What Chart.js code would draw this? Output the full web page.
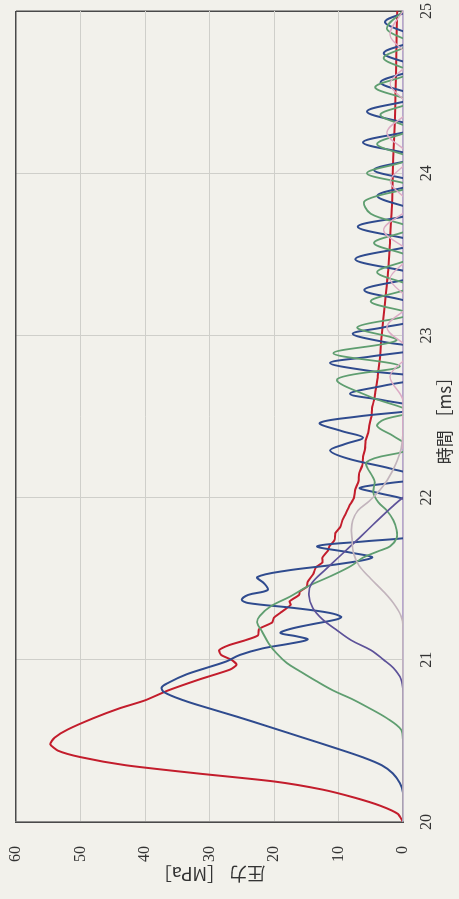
<!DOCTYPE html>
<html>
<head>
<meta charset="utf-8">
<script src="https://cdn.jsdelivr.net/npm/chart.js@4.4.0/dist/chart.umd.min.js"></script>
<style>
  html, body { margin: 0; padding: 0; width: 459px; height: 899px; overflow: hidden; background: #f2f1eb; }
  /* the scanned figure is turned a quarter turn, so the whole chart is rotated */
  #wrap { position: absolute; left: 0; top: 0; width: 899px; height: 459px;
          transform-origin: 0 0; transform: translate(0, 899px) rotate(-90deg); }
</style>
</head>
<body>
<div id="wrap"><canvas id="pressure-chart" width="899" height="459"></canvas></div>
<script>
// axis ticks
const timeTicks = [20, 21, 22, 23, 24, 25];
const pressureTicks = [0, 10, 20, 30, 40, 50, 60];

// red trace (slightly ragged on the way down)
const redT = [20.00, 20.05, 20.10, 20.15, 20.20, 20.25, 20.30, 20.35, 20.40, 20.44, 20.48, 20.52, 20.57, 20.64, 20.70, 20.75, 20.81, 20.88, 20.94, 20.97, 21.00, 21.03, 21.06, 21.09, 21.12, 21.15, 21.19, 21.23, 21.26, 21.29, 21.31, 21.34, 21.36, 21.40, 21.42, 21.45, 21.48, 21.53, 21.57, 21.60, 21.63, 21.67, 21.70, 21.74, 21.78, 21.82, 21.86, 21.90, 21.95, 22.00, 22.05, 22.10, 22.15, 22.20, 22.25, 22.30, 22.35, 22.40, 22.45, 22.50, 22.55, 22.60, 22.65, 22.75, 22.85, 23.00, 23.20, 23.40, 23.60, 23.80, 24.00, 24.20, 24.40, 24.60, 24.80, 25.00];
const redP = [0, 0.8, 3.5, 7.5, 12.5, 20, 32, 43, 50, 53.5, 54.7, 54, 52, 48, 44, 40, 36.5, 31.5, 26.8, 25.8, 26.6, 28.2, 28.5, 27, 24.5, 22.5, 22.3, 20.3, 20.0, 19.0, 18.3, 17.4, 17.6, 16.1, 16.0, 14.9, 14.8, 13.9, 13.5, 12.5, 12.5, 11.7, 11.4, 10.6, 10.5, 9.7, 9.4, 8.9, 8.3, 7.6, 7.4, 6.9, 6.8, 6.3, 6.2, 5.9, 5.8, 5.4, 5.2, 4.9, 4.8, 4.5, 4.3, 3.9, 3.6, 3.3, 2.8, 2.3, 2.0, 1.7, 1.6, 1.4, 1.2, 1.1, 1.0, 0.9];

// dark blue trace
const blueT = [20.00, 20.18, 20.24, 20.30, 20.35, 20.40, 20.46, 20.52, 20.59, 20.65, 20.70, 20.75, 20.80, 20.83, 20.86, 20.91, 20.95, 20.99, 21.03, 21.07, 21.10, 21.125, 21.145, 21.165, 21.19, 21.22, 21.25, 21.265, 21.29, 21.32, 21.35, 21.37, 21.40, 21.43, 21.47, 21.51, 21.55, 21.59, 21.63, 21.66, 21.70, 21.73, 21.76, 21.80, 21.90, 21.98, 22.03, 22.06, 22.09, 22.12, 22.18, 22.24, 22.29, 22.33, 22.37, 22.41, 22.46, 22.50, 22.55, 22.60, 22.64, 22.69, 22.74, 22.78, 22.83, 22.87, 22.92, 22.96, 23.01, 23.05, 23.10, 23.19, 23.28, 23.37, 23.47, 23.57, 23.67, 23.76, 23.86, 23.94, 24.02, 24.10, 24.19, 24.28, 24.38, 24.47, 24.56, 24.65, 24.74, 24.83, 24.93, 25.00];
const blueP = [0, 0, 0.5, 1.6, 3.3, 6.3, 10.8, 15.5, 21, 25.8, 30, 34, 37, 37.4, 36.3, 33.6, 30.5, 27.4, 25.3, 21.8, 17.5, 14.8, 16.5, 19, 17.5, 14, 10.2, 9.6, 11.5, 17, 24, 25, 24, 21, 21.5, 22.6, 18, 10, 4.8, 8, 13.3, 6, -2, -4, -4, -1, 4, 6.7, 2, -3, 2, 8.5, 11.3, 9, 6.2, 9.5, 12.9, 7, -3, 3, 8.2, 3, -3, 5, 11.3, 5, -3, 3, 7.8, 3, -2, -2, 6, -2, 7.4, -2, 7, -2, 4, -2, 4.5, -2, 6.2, -2, 5.6, -2, 3.5, -2, 3, -2, 2.8, -1];

// green trace
const greenT = [20.00, 20.50, 20.57, 20.64, 20.71, 20.76, 20.81, 20.87, 20.93, 20.98, 21.04, 21.10, 21.17, 21.23, 21.27, 21.33, 21.39, 21.45, 21.52, 21.58, 21.63, 21.67, 21.70, 21.75, 21.80, 21.86, 21.92, 21.97, 22.03, 22.10, 22.22, 22.30, 22.38, 22.44, 22.48, 22.53, 22.62, 22.73, 22.81, 22.89, 22.97, 23.05, 23.13, 23.21, 23.30, 23.39, 23.48, 23.57, 23.66, 23.75, 23.83, 23.92, 24.00, 24.09, 24.18, 24.27, 24.36, 24.44, 24.53, 24.62, 24.71, 24.80, 24.89, 25.00];
const greenP = [0, 0, 0.3, 2.5, 5.6, 8, 10.8, 13.5, 16, 18, 19.6, 20.8, 21.8, 22.6, 22.2, 20.5, 17.5, 14.9, 11, 8, 6.2, 3.8, 2.0, 1.0, 1.0, 1.5, 2.5, 3.8, 4.6, 4.4, 5.6, -1, 1.5, 4, 3, -1, 5, 10.2, 0.5, 10.8, 1, 7.1, -1, 5, -1, 4, -1, 4.5, -1, 5, 5.9, -1, 5.6, -1, 4, -1, 3.5, -1, 4.3, -1, 3, -1, 2.5, 0];

// purple trace
const purpleT = [20.00, 20.80, 20.88, 20.95, 21.00, 21.06, 21.12, 21.19, 21.25, 21.32, 21.40, 21.47, 21.55, 21.65, 21.75, 21.85, 21.95, 22.00, 22.05];
const purpleP = [0, 0, 0.3, 1.5, 3, 5, 8, 10.5, 12.5, 14, 14.6, 14.2, 12.2, 9.5, 6.8, 4.2, 1.5, 0, -2];

// grey-pink trace
const greyT = [20.00, 21.20, 21.27, 21.35, 21.42, 21.50, 21.58, 21.66, 21.74, 21.80, 21.86, 21.92, 21.98, 22.05, 22.11, 22.20, 22.30, 22.40];
const greyP = [0, 0, 0.3, 1.5, 3, 5, 6.8, 7.7, 7.9, 8.0, 7.8, 7.0, 5.2, 3.5, 2.4, 1.2, 0.3, 0];

// light pink trace (small late ripples)
const pinkT = [22.30, 22.60, 22.75, 22.90, 23.05, 23.20, 23.35, 23.50, 23.65, 23.80, 23.95, 24.10, 24.25, 24.40, 24.55, 24.70, 24.85, 25.00];
const pinkP = [0, 0, 2, -1, 2.5, -1, 2, -1, 3, -1, 2, -1, 2.5, -1, 2, -1, 2, 0];

function pts(ts, ps) {
  return ts.map((t, i) => ({ x: t, y: ps[i] }));
}

function trace(data, color, width, tension) {
  return {
    data: data,
    borderColor: color,
    backgroundColor: 'transparent',
    borderWidth: width,
    pointRadius: 0,
    tension: tension
  };
}

const serif = 'Liberation Serif';

const ctx = document.getElementById('pressure-chart').getContext('2d');
new Chart(ctx, {
  type: 'line',
  data: {
    datasets: [
      trace(pts(pinkT, pinkP), '#dcaac4', 1.4, 0.35),
      trace(pts(greyT, greyP), '#c2b4bc', 1.7, 0.35),
      trace(pts(purpleT, purpleP), '#5d5299', 1.7, 0.35),
      trace(pts(greenT, greenP), '#5f9e70', 1.8, 0.35),
      trace(pts(blueT, blueP), '#2f4b8e', 2, 0.35),
      trace(pts(redT, redP), '#c31d2c', 2, 0.2)
    ]
  },
  options: {
    responsive: false,
    animation: false,
    layout: { padding: { left: 0, right: 11, top: 16, bottom: 0 } },
    plugins: { legend: { display: false }, tooltip: { enabled: false } },
    scales: {
      x: {
        type: 'linear',
        min: 20,
        max: 25,
        afterBuildTicks: s => { s.ticks = timeTicks.map(v => ({ value: v })); },
        afterFit: s => { s.height = 56; s.paddingLeft = 0; s.paddingRight = 0; },
        grid: {
          drawTicks: false,
          color: c => (c.tick && c.tick.value === 25) ? '#4a4a4a' : '#cfcfca',
          lineWidth: c => (c.tick && c.tick.value === 25) ? 1.5 : 1
        },
        border: { color: '#b8a6cc', width: 1.5 },
        ticks: { padding: 14, color: '#333', font: { family: serif, size: 16 } },
        title: {
          display: true,
          text: '時間 ［ms］',
          color: '#333',
          font: { family: 'Noto Sans CJK JP', size: 17 },
          padding: { top: 0, bottom: 4 }
        }
      },
      y: {
        type: 'linear',
        min: 0,
        max: 60,
        afterBuildTicks: s => { s.ticks = pressureTicks.map(v => ({ value: v })); },
        afterFit: s => { s.width = 77; s.paddingTop = 0; s.paddingBottom = 0; },
        grid: {
          drawTicks: false,
          color: c => (c.tick && c.tick.value === 60) ? '#4a4a4a' : '#cfcfca',
          lineWidth: c => (c.tick && c.tick.value === 60) ? 1.5 : 1
        },
        border: { color: '#4a4a4a', width: 1.5 },
        ticks: { padding: 24, color: '#333', font: { family: serif, size: 16 } },
        title: {
          display: true,
          text: '圧力 ［MPa］',
          color: '#333',
          font: { family: 'Noto Sans CJK JP', size: 18 },
          padding: { top: 14, bottom: 0 }
        }
      }
    }
  }
});
</script>
</body>
</html>
